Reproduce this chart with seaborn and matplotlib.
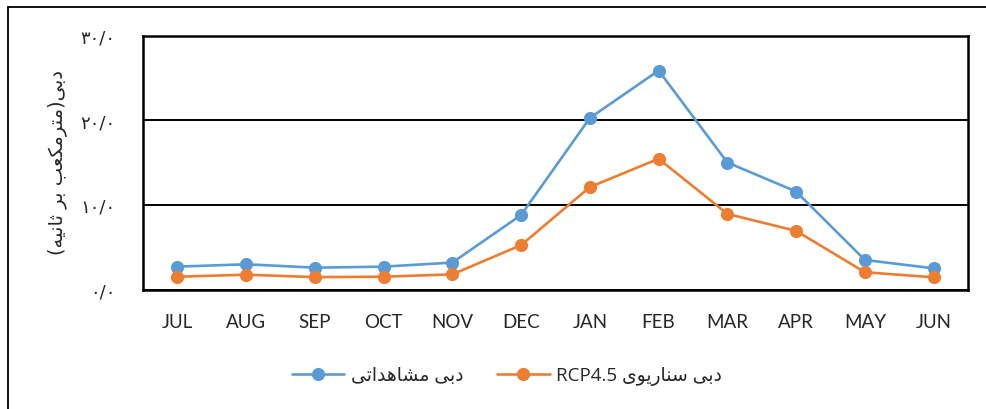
import matplotlib
matplotlib.use("Agg")
import matplotlib.pyplot as plt
from matplotlib.lines import Line2D
import seaborn as sns
import pandas as pd

months = ["JUL", "AUG", "SEP", "OCT", "NOV", "DEC", "JAN", "FEB", "MAR", "APR", "MAY", "JUN"]
observed = [2.7, 2.98, 2.58, 2.7, 3.18, 8.8, 20.26, 25.86, 15.0, 11.57, 3.49, 2.5]
rcp45 = [1.51, 1.75, 1.46, 1.51, 1.79, 5.24, 12.1, 15.44, 8.93, 6.92, 2.04, 1.44]
yticks = [0, 10, 20, 30]
ytick_labels = ["۰/۰", "۱۰/۰", "۲۰/۰", "۳۰/۰"]
label_observed = "دبی مشاهداتی"
label_rcp_fa = "دبی سناریوی"
label_rcp_en = "RCP4.5"
ylabel_text = "دبی(مترمکعب بر ثانیه)"

# --- minimal Arabic/Persian shaping (presentation forms) + visual ordering ---
FORMS = {
    "ا": ("\uFE8D", "\uFE8E", None, None),
    "د": ("\uFEA9", "\uFEAA", None, None),
    "ر": ("\uFEAD", "\uFEAE", None, None),
    "و": ("\uFEED", "\uFEEE", None, None),
    "ب": ("\uFE8F", "\uFE90", "\uFE91", "\uFE92"),
    "ت": ("\uFE95", "\uFE96", "\uFE97", "\uFE98"),
    "ث": ("\uFE99", "\uFE9A", "\uFE9B", "\uFE9C"),
    "س": ("\uFEB1", "\uFEB2", "\uFEB3", "\uFEB4"),
    "ش": ("\uFEB5", "\uFEB6", "\uFEB7", "\uFEB8"),
    "ع": ("\uFEC9", "\uFECA", "\uFECB", "\uFECC"),
    "م": ("\uFEE1", "\uFEE2", "\uFEE3", "\uFEE4"),
    "ن": ("\uFEE5", "\uFEE6", "\uFEE7", "\uFEE8"),
    "ه": ("\uFEE9", "\uFEEA", "\uFEEB", "\uFEEC"),
    "ی": ("\uFBFC", "\uFBFD", "\uFBFE", "\uFBFF"),
    "ک": ("\uFB8E", "\uFB8F", "\uFB90", "\uFB91"),
}


def shape(s):
    out = []
    for i, ch in enumerate(s):
        if ch not in FORMS:
            out.append(ch)
            continue
        prev = s[i - 1] if i > 0 else ""
        nxt = s[i + 1] if i + 1 < len(s) else ""
        jp = prev in FORMS and FORMS[prev][2] is not None
        jn = nxt in FORMS and FORMS[ch][2] is not None
        iso, fin, ini, med = FORMS[ch]
        if jp and jn:
            out.append(med)
        elif jp:
            out.append(fin)
        elif jn:
            out.append(ini)
        else:
            out.append(iso)
    return "".join(out)


def rtl(s):
    r = shape(s)[::-1]
    return r.translate(str.maketrans("()", ")("))


blue = "#5B9BD5"
orange = "#ED7D31"

sns.set_style("white")
plt.rcParams["font.family"] = ["Lato", "DejaVu Sans"]

fig = plt.figure(figsize=(9.87, 4.10), dpi=100)
ax = fig.add_axes([143 / 987, 1 - 290.5 / 410, 825 / 987, 254 / 410])

df = pd.DataFrame({
    "month": months * 2,
    "value": observed + rcp45,
    "series": ["obs"] * len(months) + ["rcp"] * len(months),
})

sns.lineplot(data=df, x="month", y="value", hue="series", palette={"obs": blue, "rcp": orange},
             marker="o", markersize=9.5, markeredgewidth=0, linewidth=1.9, sort=False,
             legend=False, ax=ax)

ax.set_xlim(-0.5, len(months) - 0.5)
ax.set_ylim(0, 30)
ax.set_yticks(yticks)
ax.set_yticklabels(ytick_labels, family=["DejaVu Sans"], fontsize=13)
ax.set_xticks(range(len(months)))
ax.set_xticklabels(months, fontsize=13.5)
ax.tick_params(axis="y", length=0, pad=20)
ax.tick_params(axis="x", length=0, pad=17)
ax.set_xlabel("")
ax.set_ylabel("")
ax.yaxis.grid(True, color="black", linewidth=1.4)
ax.set_axisbelow(True)
for sp in ax.spines.values():
    sp.set_visible(True)
    sp.set_color("black")
    sp.set_linewidth(1.8)

fig.text(57 / 987, 1 - 163 / 410, rtl(ylabel_text), rotation=90, ha="center", va="center",
         fontsize=14, family=["DejaVu Sans"])

handles = [
    Line2D([], [], color=blue, marker="o", markersize=9.5, markeredgewidth=0, linewidth=1.9),
    Line2D([], [], color=orange, marker="o", markersize=9.5, markeredgewidth=0, linewidth=1.9),
]
labels = [rtl(label_observed), label_rcp_en + " " + rtl(label_rcp_fa)]
fig.legend(handles, labels, loc="center", bbox_to_anchor=(507 / 987, 1 - 377 / 410), ncol=2,
           frameon=False, fontsize=13.5, handlelength=2.8, columnspacing=1.8, handletextpad=0.35,
           prop={"family": ["Open Sans", "DejaVu Sans"], "size": 13.5})

# outer chart border (left and top visible)
fig.add_artist(Line2D([8.5 / 987, 8.5 / 987], [0, 1 - 7.5 / 410], transform=fig.transFigure,
                      color="black", linewidth=1.3))
fig.add_artist(Line2D([8.5 / 987, 1], [1 - 7.5 / 410, 1 - 7.5 / 410], transform=fig.transFigure,
                      color="black", linewidth=1.3))

fig.savefig("out.png", dpi=100)
